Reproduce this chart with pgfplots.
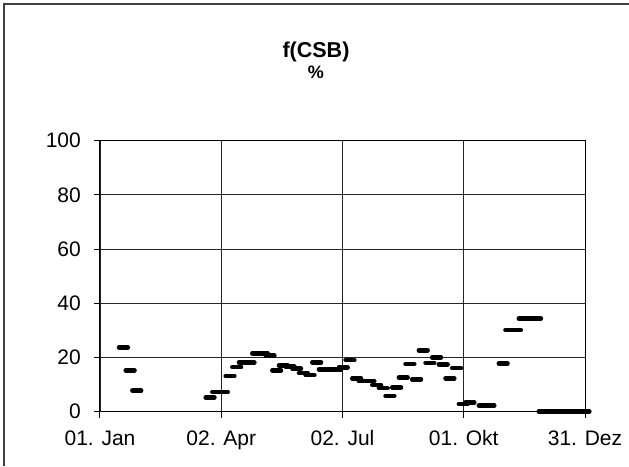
\documentclass[border=0pt]{standalone}
\usepackage{fontspec}
\setmainfont{Liberation Sans}
\usepackage{pgfplots}
\pgfplotsset{compat=1.18}
\begin{document}
\begin{tikzpicture}[x=1pt,y=1pt]
\begin{axis}[
  at={(0,0)}, anchor=south west,
  scale only axis, width=485pt, height=270.8pt,
  xmin=0, xmax=364, ymin=0, ymax=100,
  xtick={0,91,182,273,364},
  xticklabels={01. Jan,02. Apr,02. Jul,01. Okt,31. Dez},
  ytick={0,20,40,60,80,100},
  xtick pos=left, ytick pos=left,
  tick align=outside, major tick length=6pt,
  grid=major, major grid style={black!85, line width=0.8pt},
  axis line style={black, line width=1pt},
  tick style={black, line width=1pt},
  ticklabel style={font=\fontsize{21}{24}\selectfont, inner sep=0pt},
  xticklabel style={anchor=base},
  /pgf/number format/assume math mode=true,
  xticklabel shift=27.5pt, yticklabel shift=13pt,
  clip=false,
]
\addplot[only marks, mark=-, mark size=4.4pt, mark options={line width=4.5pt, line cap=round, black}] coordinates {
(17.6,23.7) (22.6,15.2) (27.6,7.7)
(82.6,5.2) (87.6,7.2) (92.6,7.2) (97.6,13.1) (102.6,16.4) (107.6,18.1) (112.6,18.1)
(117.6,21.5) (122.6,21.5) (127.6,20.7) (132.6,15.2) (137.6,17.0) (142.6,16.6)
(147.6,15.8) (152.6,14.3) (157.6,13.4) (162.6,18.1) (167.6,15.6) (172.6,15.6)
(177.6,15.6) (182.6,16.2) (187.6,19.0) (192.6,12.2) (197.6,11.2) (202.6,11.2)
(207.6,9.8) (212.6,8.6) (217.6,5.8) (222.6,8.9) (227.6,12.6) (232.6,17.5)
(237.6,11.9) (242.6,22.6) (247.6,18.0) (252.6,20.0) (257.6,17.4) (262.6,12.2)
(267.6,16.0) (272.6,2.8) (277.6,3.3) (287.6,2.2) (292.6,2.2) (302.6,17.7)
(307.6,30.1) (312.6,30.1) (317.6,34.3) (322.6,34.3) (327.6,34.3)
(332.6,0) (337.6,0) (342.6,0) (347.6,0) (352.6,0) (357.6,0) (362.6,0) (364,0)
};
\end{axis}
\node[font=\bfseries\fontsize{21.5}{24}\selectfont, anchor=base] at (216,353.5) {f(CSB)};
\node[font=\bfseries\fontsize{18}{20}\selectfont, anchor=base] at (216,332.5) {\%};
\pgfresetboundingbox
\useasboundingbox (-100,-54.5) rectangle (529,411.5);
\draw[black!75, line width=1.2pt] (-96,-54.5) -- (-96,407.5) -- (529,407.5);
\end{tikzpicture}
\end{document}
